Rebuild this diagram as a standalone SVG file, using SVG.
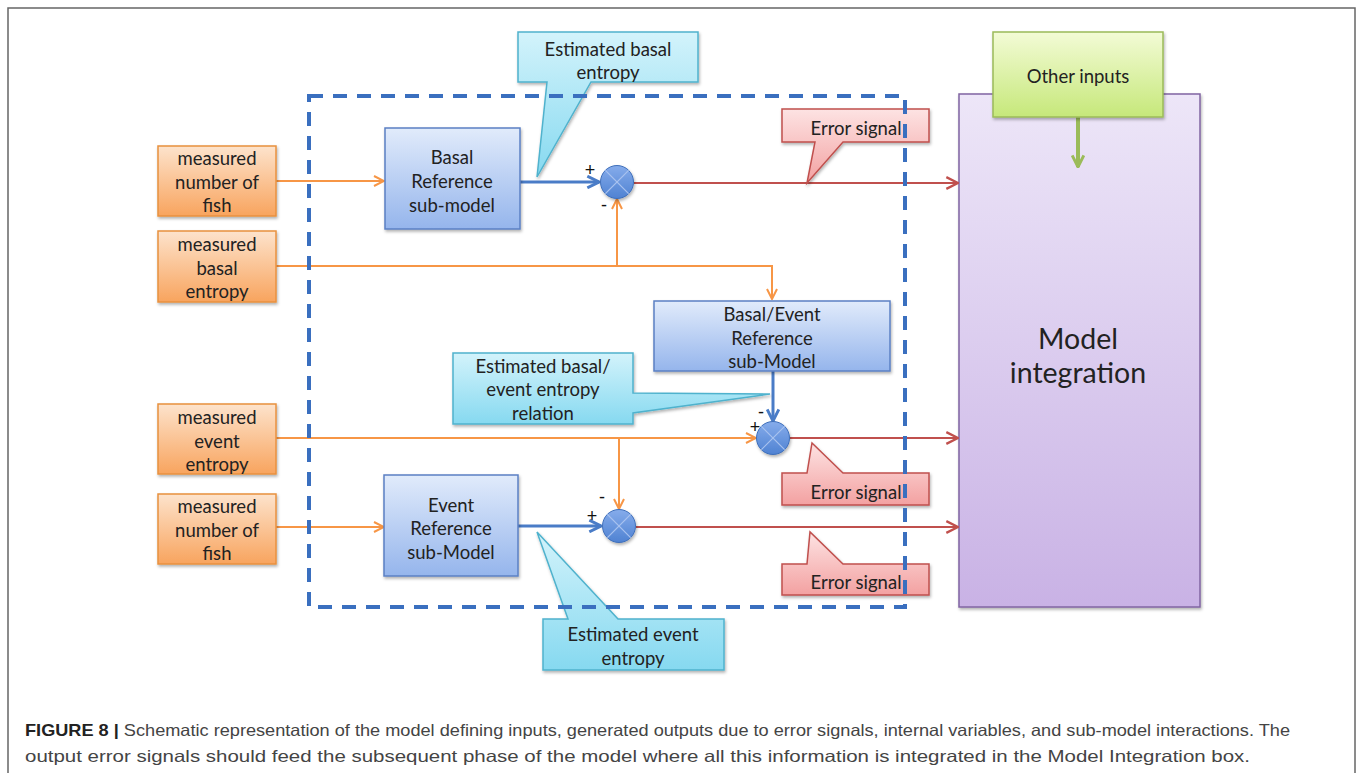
<svg xmlns="http://www.w3.org/2000/svg" width="1358" height="773" viewBox="0 0 1358 773">
<defs>
<linearGradient id="gOr" x1="0" y1="0" x2="0" y2="1"><stop offset="0" stop-color="#fde3cc"/><stop offset="1" stop-color="#f8a45e"/></linearGradient>
<linearGradient id="gBl" x1="0" y1="0" x2="0" y2="1"><stop offset="0" stop-color="#e1ebfb"/><stop offset="1" stop-color="#95b5ec"/></linearGradient>
<linearGradient id="gCy" x1="0" y1="0" x2="0" y2="1"><stop offset="0" stop-color="#d3f3fb"/><stop offset="1" stop-color="#86d9f0"/></linearGradient>
<linearGradient id="gRd" x1="0" y1="0" x2="0" y2="1"><stop offset="0" stop-color="#fde3e3"/><stop offset="1" stop-color="#f3a1a1"/></linearGradient>
<linearGradient id="gGr" x1="0" y1="0" x2="0" y2="1"><stop offset="0" stop-color="#f3fbd6"/><stop offset="1" stop-color="#c6e87a"/></linearGradient>
<linearGradient id="gPu" x1="0" y1="0" x2="0" y2="1"><stop offset="0" stop-color="#ede6f8"/><stop offset="1" stop-color="#c9b2e5"/></linearGradient>
<linearGradient id="gJn" x1="0" y1="0" x2="0" y2="1"><stop offset="0" stop-color="#86aceb"/><stop offset="1" stop-color="#4f82d2"/></linearGradient>
<filter id="sh" x="-10%" y="-10%" width="130%" height="130%"><feDropShadow dx="1" dy="2" stdDeviation="1.5" flood-color="#000" flood-opacity="0.3"/></filter>
<marker id="aO" viewBox="0 0 12 12" refX="11" refY="6" markerWidth="12" markerHeight="12" markerUnits="userSpaceOnUse" orient="auto"><path d="M1,1 L11,6 L1,11" fill="none" stroke="#f79646" stroke-width="2"/></marker>
<marker id="aR" viewBox="0 0 12 12" refX="11" refY="6" markerWidth="14" markerHeight="14" markerUnits="userSpaceOnUse" orient="auto"><path d="M1,1 L11,6 L1,11" fill="none" stroke="#c0504d" stroke-width="2"/></marker>
<marker id="aB" viewBox="0 0 12 12" refX="11" refY="6" markerWidth="14" markerHeight="14" markerUnits="userSpaceOnUse" orient="auto"><path d="M1,1 L11,6 L1,11" fill="none" stroke="#4a7cc7" stroke-width="2.5"/></marker>
<marker id="aG" viewBox="0 0 12 12" refX="11" refY="6" markerWidth="14" markerHeight="14" markerUnits="userSpaceOnUse" orient="auto"><path d="M1,1 L11,6 L1,11" fill="none" stroke="#9bbb59" stroke-width="2.5"/></marker>
</defs>
<style>
.t{font-family:Lato,"Liberation Sans",sans-serif;font-size:18.5px;fill:#222;text-anchor:middle}
.big{font-size:28.5px}
.or{fill:url(#gOr);stroke:#e8913f;stroke-width:1.5}
.bl{fill:url(#gBl);stroke:#5b80c4;stroke-width:1.5}
.cy{fill:url(#gCy);stroke:#4fb2cd;stroke-width:1.5}
.rd{fill:url(#gRd);stroke:#c0504d;stroke-width:1.5}
.gr{fill:url(#gGr);stroke:#9bbb59;stroke-width:1.5}
.pu{fill:url(#gPu);stroke:#8064a2;stroke-width:1.5}
.jn{fill:url(#gJn);stroke:#3f6fba;stroke-width:1}
.jx{stroke:#a9c3ef;stroke-width:1.2}
.lo{fill:none;stroke:#f79646;stroke-width:2}
.lr{fill:none;stroke:#c0504d;stroke-width:2}
.lb{fill:none;stroke:#4a7cc7;stroke-width:3}
.sg{font-family:"Liberation Sans",sans-serif;font-size:18px;fill:#111;text-anchor:middle}
.cap{font-family:"Liberation Sans",Arial,sans-serif;font-size:16.5px;fill:#444}
</style>
<rect x="0" y="0" width="1358" height="773" fill="#fff"/>
<rect x="8" y="8" width="1347" height="780" fill="none" stroke="#666" stroke-width="1.5"/>

<g id="model-integration">
<rect class="pu" x="959" y="94" width="241" height="513" filter="url(#sh)"/>
<text class="t big" x="1078" y="349">Model</text>
<text class="t big" x="1078" y="383">integration</text>
</g>

<g id="connectors">
<line class="lo" x1="276" y1="181" x2="384" y2="181" marker-end="url(#aO)"/>
<polyline class="lo" points="276,266 772,266 772,299" marker-end="url(#aO)"/>
<line class="lo" x1="617" y1="266" x2="617" y2="199" marker-end="url(#aO)"/>
<line class="lo" x1="276" y1="438" x2="756" y2="438" marker-end="url(#aO)"/>
<line class="lo" x1="619" y1="438" x2="619" y2="509" marker-end="url(#aO)"/>
<line class="lo" x1="276" y1="527" x2="384" y2="527" marker-end="url(#aO)"/>
<line class="lb" x1="520" y1="182" x2="599" y2="182" marker-end="url(#aB)"/>
<line class="lb" x1="773" y1="371" x2="773" y2="421" marker-end="url(#aB)"/>
<line class="lb" x1="518" y1="526" x2="601" y2="526" marker-end="url(#aB)"/>
<line class="lr" x1="634" y1="183" x2="958" y2="183" marker-end="url(#aR)"/>
<line class="lr" x1="790" y1="438" x2="958" y2="438" marker-end="url(#aR)"/>
<line class="lr" x1="636" y1="527" x2="958" y2="527" marker-end="url(#aR)"/>
<line x1="1078" y1="117" x2="1078" y2="167" stroke="#9bbb59" stroke-width="4" marker-end="url(#aG)"/>
</g>

<g id="in-fish-1"><rect class="or" x="158" y="146" width="118" height="70" filter="url(#sh)"/>
<text class="t" x="217" y="165">measured</text><text class="t" x="217" y="189">number of</text><text class="t" x="217" y="212">fish</text></g>
<g id="in-basal"><rect class="or" x="158" y="231" width="118" height="71" filter="url(#sh)"/>
<text class="t" x="217" y="251">measured</text><text class="t" x="217" y="275">basal</text><text class="t" x="217" y="298">entropy</text></g>
<g id="in-event"><rect class="or" x="158" y="404" width="118" height="70" filter="url(#sh)"/>
<text class="t" x="217" y="424">measured</text><text class="t" x="217" y="448">event</text><text class="t" x="217" y="471">entropy</text></g>
<g id="in-fish-2"><rect class="or" x="158" y="494" width="118" height="70" filter="url(#sh)"/>
<text class="t" x="217" y="513">measured</text><text class="t" x="217" y="537">number of</text><text class="t" x="217" y="560">fish</text></g>

<g id="basal-ref"><rect class="bl" x="385" y="128" width="135" height="101" filter="url(#sh)"/>
<text class="t" x="452" y="164">Basal</text><text class="t" x="452" y="188">Reference</text><text class="t" x="452" y="212">sub-model</text></g>
<g id="basal-event-ref"><rect class="bl" x="654" y="301" width="236" height="70" filter="url(#sh)"/>
<text class="t" x="772" y="321">Basal/Event</text><text class="t" x="772" y="345">Reference</text><text class="t" x="772" y="368">sub-Model</text></g>
<g id="event-ref"><rect class="bl" x="384" y="475" width="134" height="101" filter="url(#sh)"/>
<text class="t" x="451" y="512">Event</text><text class="t" x="451" y="535">Reference</text><text class="t" x="451" y="559">sub-Model</text></g>

<g id="sum-1"><circle class="jn" cx="617" cy="182" r="16.5" filter="url(#sh)"/>
<line class="jx" x1="605.4" y1="170.4" x2="628.6" y2="193.6"/><line class="jx" x1="628.6" y1="170.4" x2="605.4" y2="193.6"/>
<text class="sg" x="590" y="176">+</text><text class="sg" x="604" y="211">-</text></g>
<g id="sum-2"><circle class="jn" cx="773" cy="438" r="16.5" filter="url(#sh)"/>
<line class="jx" x1="761.4" y1="426.4" x2="784.6" y2="449.6"/><line class="jx" x1="784.6" y1="426.4" x2="761.4" y2="449.6"/>
<text class="sg" x="761" y="418">-</text><text class="sg" x="755" y="433">+</text></g>
<g id="sum-3"><circle class="jn" cx="619" cy="526" r="16.5" filter="url(#sh)"/>
<line class="jx" x1="607.4" y1="514.4" x2="630.6" y2="537.6"/><line class="jx" x1="630.6" y1="514.4" x2="607.4" y2="537.6"/>
<text class="sg" x="602" y="503">-</text><text class="sg" x="592" y="522">+</text></g>

<g id="callout-basal"><path class="cy" d="M518,32 H698 V82 H591 L537,177 L547,82 H518 Z" filter="url(#sh)"/>
<text class="t" x="608" y="56">Estimated basal</text><text class="t" x="608" y="79">entropy</text></g>
<g id="callout-relation"><path class="cy" d="M453,353 H633 V393 L770,394 L633,413 V424 H453 Z" filter="url(#sh)"/>
<text class="t" x="543" y="373">Estimated basal/</text><text class="t" x="543" y="396">event entropy</text><text class="t" x="543" y="420">relation</text></g>
<g id="callout-event"><path class="cy" d="M543,619 H568 L537,532 L618,619 H724 V670 H543 Z" filter="url(#sh)"/>
<text class="t" x="633" y="641">Estimated event</text><text class="t" x="633" y="665">entropy</text></g>

<g id="other-inputs"><rect class="gr" x="993" y="32" width="170" height="85" filter="url(#sh)"/>
<text class="t" x="1078" y="83">Other inputs</text></g>

<g id="error-1"><path class="rd" d="M782,109 H929 V142 H843 L807,183 L815,142 H782 Z" filter="url(#sh)"/>
<text class="t" x="856" y="135">Error signal</text></g>
<g id="error-2"><path class="rd" d="M782,473 H807 L812,443 L843,473 H929 V505 H782 Z" filter="url(#sh)"/>
<text class="t" x="856" y="499">Error signal</text></g>
<g id="error-3"><path class="rd" d="M782,564 H807 L810,532 L843,564 H929 V595 H782 Z" filter="url(#sh)"/>
<text class="t" x="856" y="589">Error signal</text></g>

<g id="container">
<rect x="309" y="96" width="596" height="511" fill="none" stroke="#3a6fbf" stroke-width="4" stroke-dasharray="14 10"/>
</g>

<g id="caption">
<text class="cap" x="25" y="736" textLength="1265" lengthAdjust="spacingAndGlyphs"><tspan font-weight="bold" fill="#222">FIGURE 8 | </tspan>Schematic representation of the model defining inputs, generated outputs due to error signals, internal variables, and sub-model interactions. The</text>
<text class="cap" x="25" y="762" textLength="1225" lengthAdjust="spacingAndGlyphs">output error signals should feed the subsequent phase of the model where all this information is integrated in the Model Integration box.</text>
</g>
</svg>
